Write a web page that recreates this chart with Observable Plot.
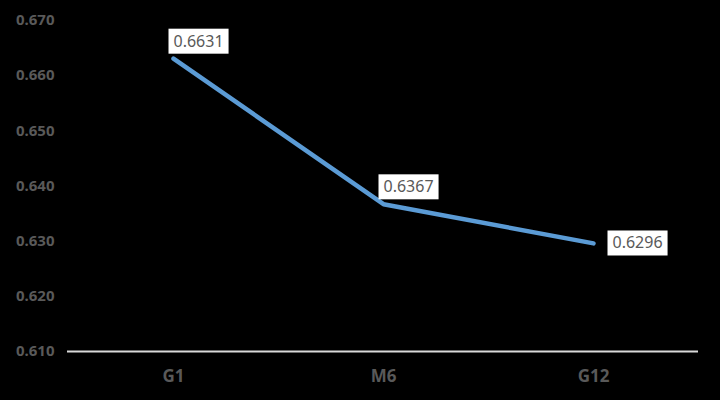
<!DOCTYPE html>
<html>
<head>
<meta charset="utf-8">
<script src="https://cdn.jsdelivr.net/npm/d3@7"></script>
<script src="https://cdn.jsdelivr.net/npm/@observablehq/plot@0.6"></script>
<style>
  html, body { margin: 0; padding: 0; background: #000; }
  svg { display: block; }
</style>
</head>
<body>
<div id="chart"></div>
<script>
const categories = ["G1", "M6", "G12"];
const values = [0.6631, 0.6367, 0.6296];
const labelText = ["0.6631", "0.6367", "0.6296"];
const labelPlacement = ["above", "above", "right"];
const yTicks = [0.61, 0.62, 0.63, 0.64, 0.65, 0.66, 0.67];

const data = categories.map((c, i) => ({cat: c, value: values[i], label: labelText[i], place: labelPlacement[i]}));

const chart = Plot.plot({
  width: 720,
  height: 400,
  marginLeft: 67,
  marginRight: 22,
  marginTop: 20,
  marginBottom: 49,
  style: {background: "#000", fontFamily: "Noto Sans, sans-serif"},
  x: {type: "band", domain: categories, padding: 0, label: null},
  y: {domain: [0.61, 0.67], label: null},
  marks: [
    Plot.axisY({ticks: yTicks, tickFormat: d3.format(".3f"), tickSize: 0, tickPadding: 13, fontSize: 15, fontWeight: "bold", fill: "#595959", label: null}),
    Plot.axisX({tickSize: 0, tickPadding: 18, fontSize: 17, fontWeight: "bold", fill: "#595959", label: null}),
    Plot.ruleY([0.61], {stroke: "#d9d9d9", strokeWidth: 2}),
    Plot.line(data, {x: "cat", y: "value", stroke: "#5b9bd5", strokeWidth: 4.5, strokeLinejoin: "round"}),
    Plot.text(data.filter(d => d.place === "above"), {x: "cat", y: "value", text: "label", textAnchor: "start", dx: 0, dy: -17, fontSize: 16, fill: "#595959"}),
    Plot.text(data.filter(d => d.place === "right"), {x: "cat", y: "value", text: "label", textAnchor: "start", dx: 19, dy: 0, fontSize: 16, fill: "#595959"})
  ]
});

document.getElementById("chart").append(chart);

// white boxes behind the value labels
d3.select(chart).selectAll('g[aria-label="text"] text').each(function() {
  const node = this;
  const b = node.getBBox();
  const padX = 5, padY = 2;
  const r = document.createElementNS("http://www.w3.org/2000/svg", "rect");
  r.setAttribute("x", b.x - padX);
  r.setAttribute("y", b.y - padY + 1);
  r.setAttribute("width", b.width + 2 * padX);
  r.setAttribute("height", b.height + 2 * padY - 1);
  r.setAttribute("fill", "#fff");
  const t = node.getAttribute("transform");
  if (t) r.setAttribute("transform", t);
  node.parentNode.insertBefore(r, node);
});
</script>
</body>
</html>
